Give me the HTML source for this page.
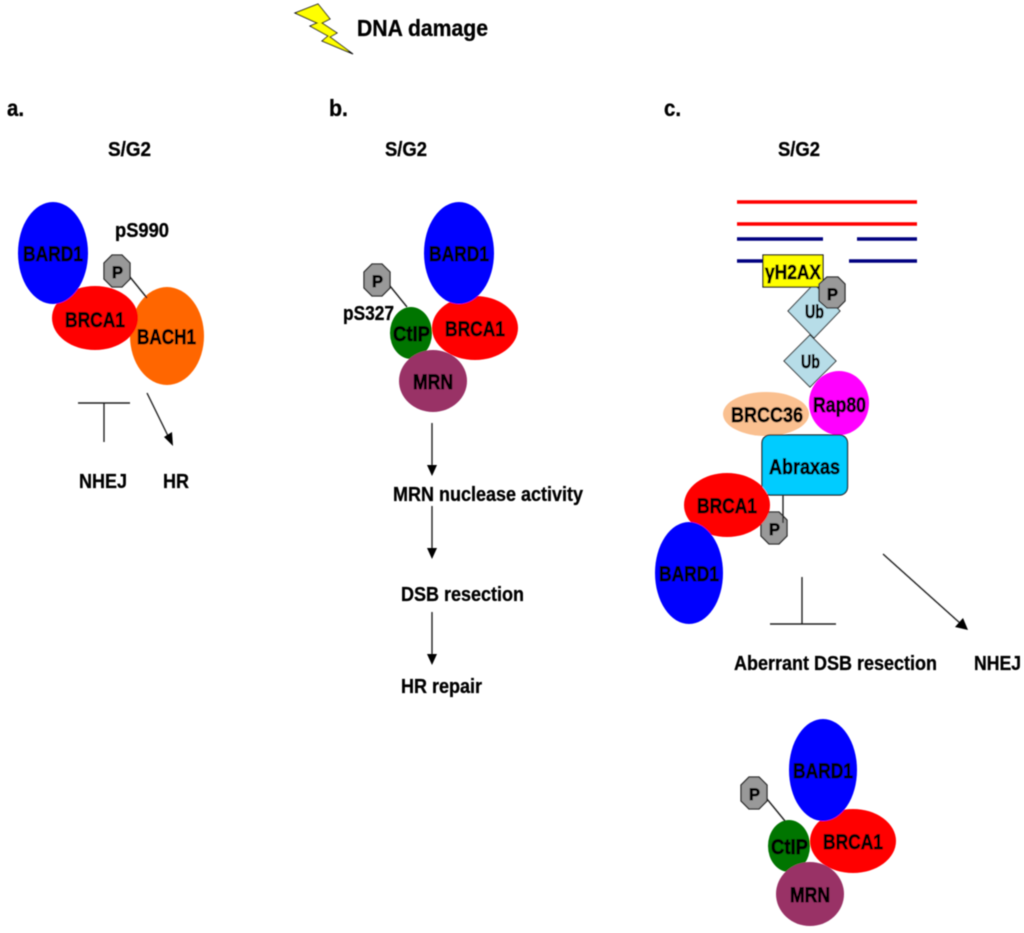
<!DOCTYPE html>
<html>
<head>
<meta charset="utf-8">
<style>
html,body{margin:0;padding:0;background:#fff;width:1024px;height:933px;overflow:hidden}
svg{display:block}
text{font-family:"Liberation Sans",sans-serif;font-weight:bold;font-size:20px;fill:#000;stroke:#000;stroke-width:.3}
text.i{font-size:21px;stroke-width:.7}
.o{fill:#999;stroke:#222;stroke-width:1.3}
.l{stroke:#222;stroke-width:1.4;fill:none}
</style>
</head>
<body>
<svg width="1024" height="933" viewBox="0 0 1024 933" xmlns="http://www.w3.org/2000/svg">
<defs><filter id="b" x="-2%" y="-2%" width="104%" height="104%"><feGaussianBlur stdDeviation="0.45"/></filter></defs>
<g filter="url(#b)">
<!-- top -->
<polygon points="295,13 318,4 330,19 322,23 337,33 330,37 353,54 322,41 328,36 310,26 317,23" fill="#ffff00" stroke="#111" stroke-width="1"/>
<text x="357" y="36" style="font-size:23px" textLength="131" lengthAdjust="spacingAndGlyphs">DNA damage</text>
<text x="7" y="116" style="font-size:23px" textLength="17" lengthAdjust="spacingAndGlyphs">a.</text>
<text x="329" y="116" style="font-size:23px" textLength="19" lengthAdjust="spacingAndGlyphs">b.</text>
<text x="664" y="116" style="font-size:23px" textLength="17" lengthAdjust="spacingAndGlyphs">c.</text>
<text x="108" y="156" textLength="43" lengthAdjust="spacingAndGlyphs">S/G2</text>
<text x="385" y="156" textLength="42" lengthAdjust="spacingAndGlyphs">S/G2</text>
<text x="778" y="156" textLength="42" lengthAdjust="spacingAndGlyphs">S/G2</text>

<!-- panel a -->
<ellipse cx="167" cy="336" rx="37" ry="49" fill="#ff6600"/>
<ellipse cx="95" cy="318" rx="43" ry="32" fill="#ff0000"/>
<ellipse cx="53" cy="253" rx="35" ry="51" fill="#0000ff"/>
<line class="l" x1="130" y1="277" x2="147" y2="298"/>
<polygon class="o" points="112,255 122,255 130,263 130,279 122,287 112,287 104,279 104,263"/>
<text class="i" x="112" y="278" style="font-size:17px" textLength="11" lengthAdjust="spacingAndGlyphs">P</text>
<text x="115" y="237" textLength="54" lengthAdjust="spacingAndGlyphs">pS990</text>
<text class="i" x="23" y="261" textLength="60" lengthAdjust="spacingAndGlyphs">BARD1</text>
<text class="i" x="65" y="327" textLength="60" lengthAdjust="spacingAndGlyphs">BRCA1</text>
<text class="i" x="137" y="344" textLength="59" lengthAdjust="spacingAndGlyphs">BACH1</text>
<line class="l" x1="78" y1="403" x2="130" y2="403"/>
<line class="l" x1="104" y1="403" x2="104" y2="442"/>
<line class="l" x1="147" y1="393" x2="170" y2="440"/>
<polygon points="173,446 164,437 172,432" fill="#000"/>
<text x="79" y="488" textLength="48" lengthAdjust="spacingAndGlyphs">NHEJ</text>
<text x="163" y="488" textLength="26" lengthAdjust="spacingAndGlyphs">HR</text>

<!-- panel b -->
<ellipse cx="475" cy="328" rx="43" ry="32" fill="#ff0000"/>
<ellipse cx="459" cy="253" rx="35" ry="51" fill="#0000ff"/>
<ellipse cx="411" cy="333" rx="21" ry="26" fill="#007500"/>
<ellipse cx="433" cy="381" rx="34" ry="31" fill="#993366"/>
<line class="l" x1="390" y1="286" x2="407" y2="307"/>
<polygon class="o" points="372,264 382,264 390,272 390,288 382,296 372,296 364,288 364,272"/>
<text class="i" x="372" y="287" style="font-size:17px" textLength="11" lengthAdjust="spacingAndGlyphs">P</text>
<text x="343" y="320" textLength="51" lengthAdjust="spacingAndGlyphs">pS327</text>
<text class="i" x="429" y="261" textLength="60" lengthAdjust="spacingAndGlyphs">BARD1</text>
<text class="i" x="445" y="336" textLength="60" lengthAdjust="spacingAndGlyphs">BRCA1</text>
<text class="i" x="393" y="341" textLength="37" lengthAdjust="spacingAndGlyphs">CtIP</text>
<text class="i" x="413" y="389" textLength="40" lengthAdjust="spacingAndGlyphs">MRN</text>
<line class="l" x1="432" y1="423" x2="432" y2="466"/>
<polygon points="432,476 427,465 437,465" fill="#000"/>
<line class="l" x1="432" y1="506" x2="432" y2="549"/>
<polygon points="432,559 427,548 437,548" fill="#000"/>
<line class="l" x1="432" y1="612" x2="432" y2="655"/>
<polygon points="432,665 427,654 437,654" fill="#000"/>
<text x="393" y="501" textLength="190" lengthAdjust="spacingAndGlyphs">MRN nuclease activity</text>
<text x="401" y="601" textLength="123" lengthAdjust="spacingAndGlyphs">DSB resection</text>
<text x="401" y="693" textLength="81" lengthAdjust="spacingAndGlyphs">HR repair</text>

<!-- panel c -->
<g stroke-width="3.5" fill="none">
<line x1="737" y1="202" x2="917" y2="202" stroke="#ff0000"/>
<line x1="737" y1="224" x2="917" y2="224" stroke="#ff0000"/>
<line x1="737" y1="239" x2="823" y2="239" stroke="#000080"/>
<line x1="857" y1="239" x2="917" y2="239" stroke="#000080"/>
<line x1="737" y1="261" x2="765" y2="261" stroke="#000080"/>
<line x1="849" y1="261" x2="917" y2="261" stroke="#000080"/>
</g>
<polygon points="810,335 836,361 810,387 784,361" fill="#b7dde8" stroke="#222" stroke-width="1"/>
<polygon points="814,284 840,311 814,338 788,311" fill="#b7dde8" stroke="#222" stroke-width="1"/>
<rect x="763" y="255" width="60" height="32" fill="#ffff00" stroke="#111" stroke-width="1.2"/>
<polygon class="o" points="827,277 838,277 845,284 845,301 838,308 827,308 819,301 819,284"/>
<text class="i" x="827" y="300" style="font-size:17px" textLength="11" lengthAdjust="spacingAndGlyphs">P</text>
<text class="i" x="765" y="279" style="font-size:20px" textLength="56" lengthAdjust="spacingAndGlyphs">γH2AX</text>
<text class="i" x="805" y="318" style="font-size:18px" textLength="19" lengthAdjust="spacingAndGlyphs">Ub</text>
<text class="i" x="801" y="368" style="font-size:18px" textLength="19" lengthAdjust="spacingAndGlyphs">Ub</text>
<ellipse cx="766" cy="414" rx="43" ry="22" fill="#fac090"/>
<ellipse cx="839" cy="403" rx="30" ry="32" fill="#ff00ff"/>
<text class="i" x="731" y="422" textLength="72" lengthAdjust="spacingAndGlyphs">BRCC36</text>
<text class="i" x="813" y="412" textLength="53" lengthAdjust="spacingAndGlyphs">Rap80</text>
<polygon class="o" points="769,512 779,512 787,520 787,536 779,544 769,544 761,536 761,520"/>
<rect x="762" y="435" width="85.500" height="60" rx="8" ry="8" fill="#00ccff" stroke="#111" stroke-width="1.2"/>
<line class="l" x1="783" y1="495" x2="783" y2="523"/>
<text class="i" x="769" y="474" textLength="71" lengthAdjust="spacingAndGlyphs">Abraxas</text>
<ellipse cx="727" cy="505" rx="43" ry="32" fill="#ff0000"/>
<ellipse cx="689" cy="573" rx="34" ry="51" fill="#0000ff"/>
<text class="i" x="697" y="513" textLength="60" lengthAdjust="spacingAndGlyphs">BRCA1</text>
<text class="i" x="659" y="581" textLength="60" lengthAdjust="spacingAndGlyphs">BARD1</text>
<text class="i" x="769" y="535" style="font-size:17px" textLength="11" lengthAdjust="spacingAndGlyphs">P</text>
<line class="l" x1="802" y1="577" x2="802" y2="624"/>
<line class="l" x1="770" y1="624" x2="836" y2="624"/>
<line class="l" x1="883" y1="554" x2="961" y2="624"/>
<polygon points="968,630 955,627 963,618" fill="#000"/>
<text x="734" y="670" textLength="203" lengthAdjust="spacingAndGlyphs">Aberrant DSB resection</text>
<text x="974" y="670" textLength="47" lengthAdjust="spacingAndGlyphs">NHEJ</text>

<!-- bottom complex -->
<ellipse cx="853" cy="841" rx="43" ry="32" fill="#ff0000"/>
<ellipse cx="823" cy="770" rx="34" ry="51" fill="#0000ff"/>
<ellipse cx="789" cy="846" rx="21" ry="26" fill="#007500"/>
<ellipse cx="810" cy="894" rx="34" ry="32" fill="#993366"/>
<line class="l" x1="767" y1="799" x2="785" y2="821"/>
<polygon class="o" points="749,777 759,777 767,785 767,801 759,809 749,809 741,801 741,785"/>
<text class="i" x="749" y="800" style="font-size:17px" textLength="11" lengthAdjust="spacingAndGlyphs">P</text>
<text class="i" x="793" y="778" textLength="60" lengthAdjust="spacingAndGlyphs">BARD1</text>
<text class="i" x="823" y="849" textLength="60" lengthAdjust="spacingAndGlyphs">BRCA1</text>
<text class="i" x="771" y="854" textLength="37" lengthAdjust="spacingAndGlyphs">CtIP</text>
<text class="i" x="790" y="902" textLength="40" lengthAdjust="spacingAndGlyphs">MRN</text>
</g>
</svg>
</body>
</html>
